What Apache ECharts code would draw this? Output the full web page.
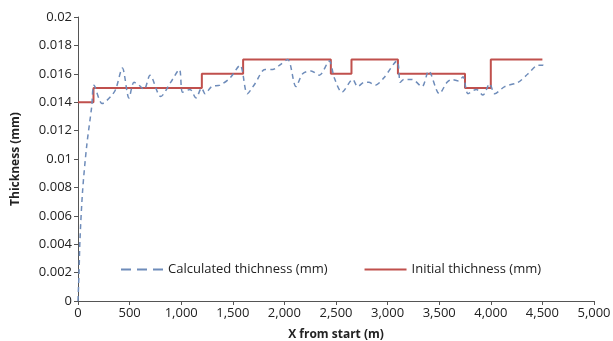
<!DOCTYPE html>
<html><head><meta charset="utf-8">
<script src="https://cdn.jsdelivr.net/npm/echarts@6/dist/echarts.min.js"></script>
<style>html,body{margin:0;padding:0;background:#fff}#c{width:613px;height:341px}</style>
</head><body><div id="c"></div>
<script>
var calcX = [0, 10, 19, 45, 84, 133, 155, 235, 317, 365, 430, 494, 543, 591, 640, 698, 801, 898, 982, 1014, 1085, 1143, 1198, 1231, 1295, 1376, 1473, 1570, 1641, 1715, 1812, 1886, 1951, 2032, 2112, 2177, 2258, 2338, 2435, 2484, 2558, 2662, 2710, 2774, 2817, 2881, 2962, 3091, 3123, 3156, 3236, 3333, 3398, 3501, 3576, 3624, 3689, 3731, 3779, 3860, 3924, 3989, 4038, 4135, 4264, 4361, 4458, 4506, 4528];
var calcY = [0, 0.002, 0.0043, 0.0078, 0.0109, 0.0137, 0.0152, 0.0139, 0.0144, 0.0149, 0.0164, 0.0143, 0.0154, 0.0152, 0.0149, 0.0159, 0.0144, 0.0154, 0.0163, 0.0147, 0.0149, 0.0143, 0.0150, 0.0146, 0.0151, 0.0152, 0.0157, 0.0166, 0.0146, 0.0153, 0.0163, 0.0163, 0.0166, 0.0170, 0.0151, 0.0160, 0.0162, 0.0159, 0.0169, 0.0157, 0.0147, 0.0156, 0.0151, 0.0154, 0.0154, 0.0152, 0.0157, 0.0169, 0.0154, 0.0156, 0.0156, 0.0151, 0.0162, 0.0146, 0.0154, 0.0156, 0.0155, 0.0158, 0.0146, 0.0149, 0.0145, 0.0153, 0.0146, 0.0151, 0.0154, 0.0160, 0.0166, 0.0166, 0.0164];
var initX = [0, 150, 1200, 1600, 2450, 2650, 3100, 3750, 4000, 4500];
var initY = [0.014, 0.015, 0.016, 0.017, 0.016, 0.017, 0.016, 0.015, 0.017, 0.017];
var seriesNames = ['Calculated thichness (mm)', 'Initial thichness (mm)'];
var xName = 'X from start (m)';
var yName = 'Thickness (mm)';

function pairs(xs, ys){ return xs.map(function(x,i){ return [x, ys[i]]; }); }
var font = '"Open Sans", "Noto Sans", sans-serif';
var chart = echarts.init(document.getElementById('c'), null, {renderer:'canvas'});
chart.setOption({
  animation: false,
  backgroundColor: '#fff',
  grid: {left: 78, top: 17, right: 19, bottom: 40, containLabel: false, outerBoundsMode: 'none'},
  legend: {
    left: 116, top: 258, itemGap: 37, itemWidth: 42, itemHeight: 10,
    textStyle: {fontFamily: font, fontSize: 13, color: '#222'},
    data: [
      {name: seriesNames[0], icon: 'path://M0,4 L10,4 L10,6 L0,6 Z M16,4 L26,4 L26,6 L16,6 Z M32,4 L42,4 L42,6 L32,6 Z', itemStyle: {color: '#6e8cba'}},
      {name: seriesNames[1], icon: 'path://M0,4 L42,4 L42,6 L0,6 Z', itemStyle: {color: '#c0504d'}}
    ]
  },
  xAxis: {
    type: 'value', min: 0, max: 5000, interval: 500,
    name: xName, nameLocation: 'middle', nameGap: 28,
    nameTextStyle: {fontFamily: font, fontSize: 12, fontWeight: 'bold', color: '#222'},
    axisLine: {lineStyle: {color: '#555', width: 1}},
    axisTick: {show: true, length: 4, lineStyle: {color: '#555'}},
    axisLabel: {fontFamily: font, fontSize: 13, color: '#222', margin: 6,
      formatter: function(v){ return v.toLocaleString('en-US'); }},
    splitLine: {show: false}
  },
  yAxis: {
    type: 'value', min: 0, max: 0.02, interval: 0.002,
    name: yName, nameLocation: 'middle', nameGap: 56, nameRotate: 90,
    nameTextStyle: {fontFamily: font, fontSize: 12, fontWeight: 'bold', color: '#222'},
    axisLine: {show: true, lineStyle: {color: '#555', width: 1}},
    axisTick: {show: true, length: 4, lineStyle: {color: '#555'}},
    axisLabel: {fontFamily: font, fontSize: 13, color: '#222', margin: 6,
      formatter: function(v){ return String(parseFloat(v.toFixed(4))); }},
    splitLine: {show: false}
  },
  series: [
    {name: seriesNames[0], type: 'line', data: pairs(calcX, calcY), symbol: 'none', smooth: 0.3,
     lineStyle: {color: '#6e8cba', width: 1.5, type: [5, 4]}, itemStyle: {color: '#6e8cba'}, z: 3},
    {name: seriesNames[1], type: 'line', data: pairs(initX, initY), symbol: 'none', step: 'end',
     lineStyle: {color: '#c0504d', width: 2}, itemStyle: {color: '#c0504d'}, z: 2}
  ]
});
</script></body></html>
